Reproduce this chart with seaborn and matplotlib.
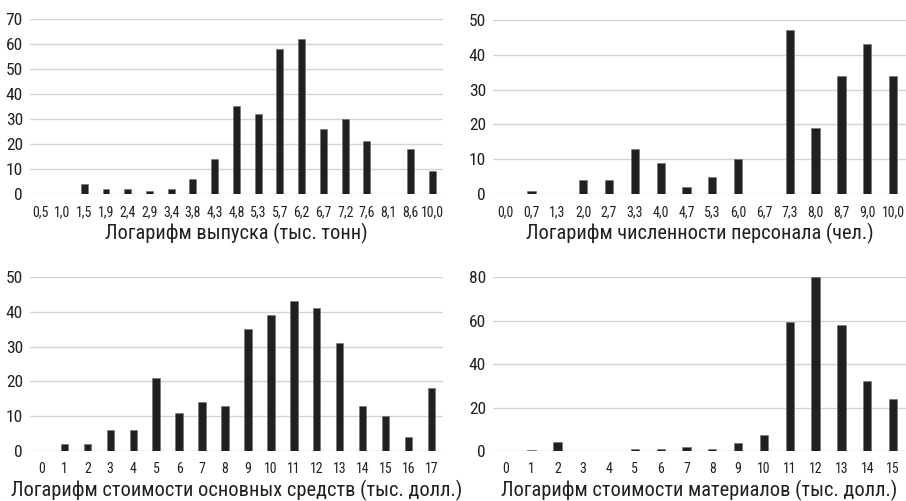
import matplotlib
matplotlib.use("Agg")
import matplotlib.pyplot as plt
from matplotlib import font_manager
import seaborn as sns
import pandas as pd

# Данные гистограмм
out_labels = ['0,5', '1,0', '1,5', '1,9', '2,4', '2,9', '3,4', '3,8', '4,3', '4,8',
              '5,3', '5,7', '6,2', '6,7', '7,2', '7,6', '8,1', '8,6', '10,0']
out_counts = [0, 0, 4, 2, 2, 1, 2, 6, 14, 35, 32, 58, 62, 26, 30, 21, 0, 18, 9]

staff_labels = ['0,0', '0,7', '1,3', '2,0', '2,7', '3,3', '4,0', '4,7', '5,3', '6,0',
                '6,7', '7,3', '8,0', '8,7', '9,0', '10,0']
staff_counts = [0, 1, 0, 4, 4, 13, 9, 2, 5, 10, 0, 47, 19, 34, 43, 34]

assets_labels = [str(i) for i in range(18)]
assets_counts = [0, 2, 2, 6, 6, 21, 11, 14, 13, 35, 39, 43, 41, 31, 13, 10, 4, 18]

mat_labels = [str(i) for i in range(16)]
mat_counts = [0, 0.5, 4, 0, 0, 1, 1, 2, 1, 3.5, 7.5, 59.5, 80, 58, 32, 24]

panels = [
    (out_labels, out_counts, 'Логарифм выпуска (тыс. тонн)', 70, 10,
     [0.033, 0.6128, 0.456, 0.3494]),
    (staff_labels, staff_counts, 'Логарифм численности персонала (чел.)', 50, 10,
     [0.544, 0.6128, 0.456, 0.3473]),
    (assets_labels, assets_counts, 'Логарифм стоимости основных средств (тыс. долл.)', 50, 10,
     [0.033, 0.0998, 0.456, 0.3473]),
    (mat_labels, mat_counts, 'Логарифм стоимости материалов (тыс. долл.)', 80, 20,
     [0.544, 0.0998, 0.456, 0.3473]),
]

sns.set_style("white")
# узкий шрифт, если он есть
installed = {f.name for f in font_manager.fontManager.ttflist}
narrow = [n for n in ['Liberation Sans Narrow', 'Roboto Condensed', 'DejaVu Sans Condensed',
                      'Open Sans Condensed'] if n in installed]
plt.rcParams['font.family'] = narrow + ['Roboto', 'DejaVu Sans']
plt.rcParams['text.color'] = '#231f20'

fig = plt.figure(figsize=(9.06, 5.01), dpi=100)

for labels, counts, xlabel, ymax, ystep, pos in panels:
    ax = fig.add_axes(pos)
    df = pd.DataFrame({'cat': labels, 'n': counts})
    sns.barplot(data=df, x='cat', y='n', order=labels, color='#231f20',
                width=0.32, saturation=1, edgecolor='#6b7178', linewidth=0.4, ax=ax)
    ax.set_ylim(0, ymax)
    ax.set_xlim(-0.5, len(labels) - 0.5)
    ax.set_yticks(range(0, ymax + 1, ystep))
    ax.set_axisbelow(True)
    ax.yaxis.grid(True, color='#d4d4d4', linewidth=1)
    for s in ax.spines.values():
        s.set_visible(False)
    ax.tick_params(axis='both', length=0, colors='#231f20')
    ax.tick_params(axis='x', labelsize=10, pad=8)
    ax.tick_params(axis='y', labelsize=12.5, pad=5)
    ax.set_ylabel('')
    ax.set_xlabel(xlabel, fontsize=14.7, color='#231f20', labelpad=3)

fig.savefig('out.png', dpi=100)
